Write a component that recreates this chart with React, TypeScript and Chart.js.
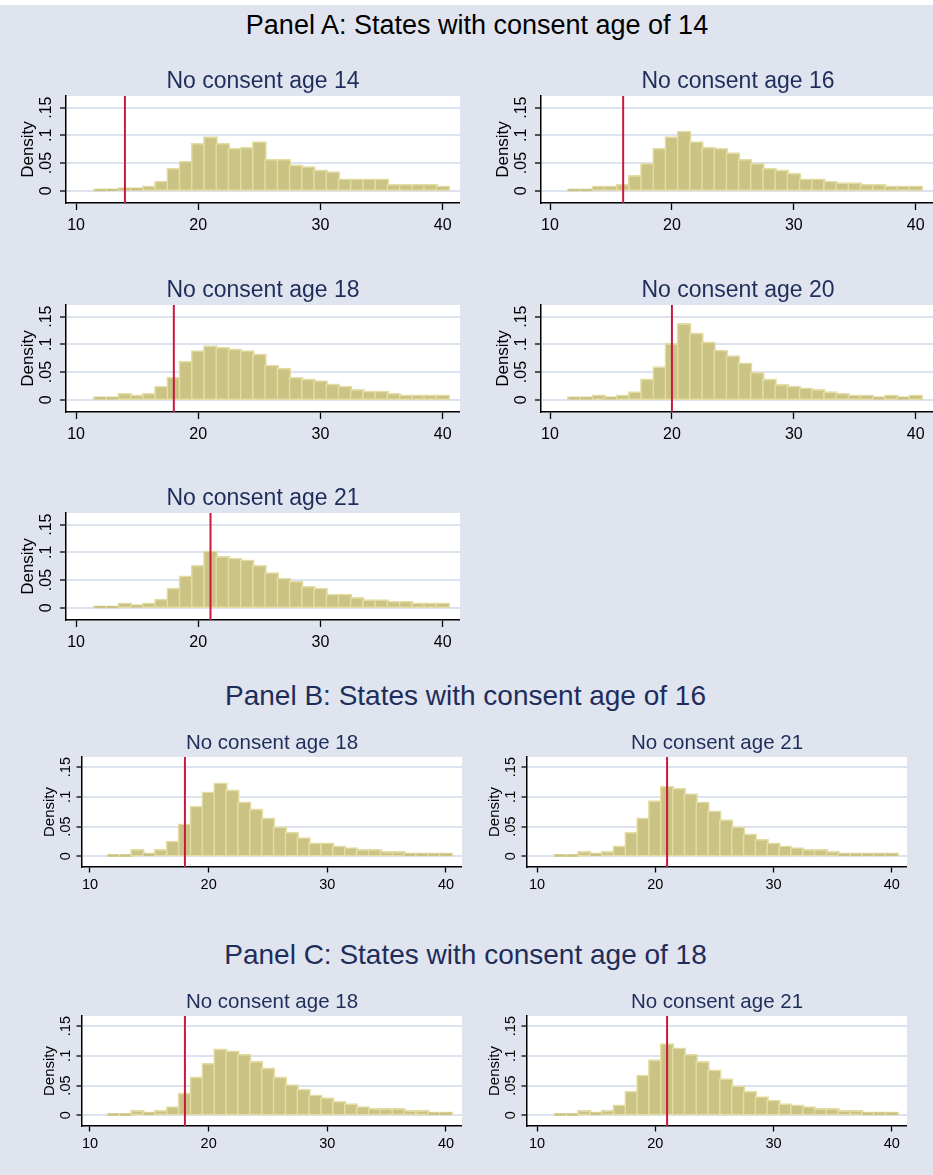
import React, { useEffect, useRef } from "react";
import { Chart, registerables } from "chart.js";

Chart.register(...registerables);

// ---------------- data ----------------
const ageBins = [12, 13, 14, 15, 16, 17, 18, 19, 20, 21, 22, 23, 24, 25, 26, 27, 28, 29, 30, 31, 32, 33, 34, 35, 36, 37, 38, 39, 40];

const xTickValues = [10, 20, 30, 40];
const xTickLabels = ["10", "20", "30", "40"];
const yTickValues = [0, 0.05, 0.1, 0.15];
const yTickLabels = ["0", ".05", ".1", ".15"];

const panelHeadings = [
  "Panel A: States with consent age of 14",
  "Panel B: States with consent age of 16",
  "Panel C: States with consent age of 18",
];

// Panel A: states with consent age 14
const panelA_age14 = [0.001, 0.002, 0.004, 0.004, 0.007, 0.016, 0.039, 0.052, 0.084, 0.096, 0.084, 0.075, 0.077, 0.087, 0.055, 0.055, 0.045, 0.042, 0.036, 0.033, 0.020, 0.020, 0.020, 0.020, 0.010, 0.010, 0.010, 0.010, 0.007];
const panelA_age16 = [0.001, 0.001, 0.007, 0.007, 0.010, 0.026, 0.048, 0.075, 0.096, 0.106, 0.087, 0.077, 0.075, 0.067, 0.055, 0.048, 0.039, 0.036, 0.030, 0.020, 0.020, 0.016, 0.013, 0.013, 0.010, 0.010, 0.007, 0.007, 0.007];
const panelA_age18 = [0.004, 0.004, 0.010, 0.007, 0.010, 0.023, 0.039, 0.068, 0.087, 0.096, 0.093, 0.090, 0.087, 0.081, 0.061, 0.055, 0.039, 0.036, 0.033, 0.027, 0.023, 0.017, 0.014, 0.014, 0.010, 0.007, 0.007, 0.007, 0.007];
const panelA_age20 = [0.004, 0.004, 0.007, 0.004, 0.007, 0.013, 0.036, 0.058, 0.100, 0.136, 0.119, 0.103, 0.088, 0.078, 0.065, 0.048, 0.036, 0.026, 0.023, 0.020, 0.017, 0.013, 0.010, 0.007, 0.007, 0.004, 0.007, 0.004, 0.007];
const panelA_age21 = [0.001, 0.001, 0.007, 0.004, 0.007, 0.014, 0.034, 0.056, 0.075, 0.101, 0.091, 0.088, 0.085, 0.075, 0.062, 0.052, 0.046, 0.037, 0.034, 0.023, 0.023, 0.017, 0.013, 0.013, 0.010, 0.010, 0.007, 0.007, 0.007];
// Panel B: states with consent age 16
const panelB_age18 = [0.001, 0.001, 0.010, 0.004, 0.010, 0.024, 0.053, 0.083, 0.107, 0.122, 0.110, 0.090, 0.078, 0.063, 0.048, 0.039, 0.030, 0.021, 0.021, 0.016, 0.013, 0.010, 0.010, 0.007, 0.007, 0.004, 0.004, 0.004, 0.004];
const panelB_age21 = [0.001, 0.001, 0.007, 0.004, 0.007, 0.016, 0.039, 0.063, 0.092, 0.116, 0.113, 0.104, 0.090, 0.075, 0.060, 0.048, 0.036, 0.027, 0.021, 0.016, 0.013, 0.010, 0.010, 0.007, 0.004, 0.004, 0.004, 0.004, 0.004];
// Panel C: states with consent age 18
const panelC_age18 = [0.001, 0.001, 0.007, 0.004, 0.007, 0.013, 0.036, 0.063, 0.086, 0.110, 0.107, 0.101, 0.089, 0.078, 0.063, 0.050, 0.042, 0.033, 0.028, 0.022, 0.018, 0.013, 0.010, 0.010, 0.010, 0.007, 0.007, 0.004, 0.004];
const panelC_age21 = [0.001, 0.001, 0.007, 0.004, 0.007, 0.016, 0.039, 0.066, 0.092, 0.119, 0.112, 0.101, 0.089, 0.075, 0.060, 0.048, 0.039, 0.030, 0.024, 0.018, 0.016, 0.013, 0.010, 0.010, 0.007, 0.007, 0.004, 0.004, 0.004];

const panelA_cutoffs = [14, 16, 18, 20, 21];
const panelB_cutoffs = [18, 21];
const panelC_cutoffs = [18, 21];

const panelA_titles = ["No consent age 14", "No consent age 16", "No consent age 18", "No consent age 20", "No consent age 21"];
const panelB_titles = ["No consent age 18", "No consent age 21"];
const panelC_titles = ["No consent age 18", "No consent age 21"];

const yAxisTitle = "Density";

// ---------------- styles ----------------
const FONT = "'Liberation Sans', Arial, Helvetica, sans-serif";
const BG = "#dfe4ef";
const GRID = "#dce2ee";
const BAR = "#cbc384";
const BAR_EDGE = "#e3dda5";
const RED = "#c9173f";
const NAVY = "#1e2d5a";

type Style = {
  yAxisW: number; xAxisH: number;
  titleSize: number; titlePadTop: number; titlePadBottom: number;
  tickSize: number; densSize: number; densPad: number;
  yTickPad: number; xTickPad: number; xTickLen: number; yTickLen: number;
  yMin: number; yMax: number;
};

const styleA: Style = {
  yAxisW: 50, xAxisH: 36, titleSize: 23, titlePadTop: 4, titlePadBottom: 0.4,
  tickSize: 16, densSize: 17, densPad: 2.1, yTickPad: 2.2, xTickPad: 6.2, xTickLen: 7, yTickLen: 6,
  yMin: -0.022, yMax: 0.171,
};
const styleBC: Style = {
  yAxisW: 45, xAxisH: 32, titleSize: 20.5, titlePadTop: 4.2, titlePadBottom: 1.2,
  tickSize: 14.5, densSize: 15, densPad: 3.7, yTickPad: 0, xTickPad: 3.8, xTickLen: 5.5, yTickLen: 5.5,
  yMin: -0.018, yMax: 0.167,
};

type Spec = {
  left: number; top: number; width: number; height: number;
  xMin: number; xMax: number; style: Style;
  title: string; values: number[]; cutoff: number;
};

const colA = [
  { left: 16, width: 444, xMin: 9.18, xMax: 41.41 },
  { left: 491, width: 444, xMin: 9.26, xMax: 41.58 },
];
const colBC = [
  { left: 37, width: 425, xMin: 9.326, xMax: 41.35 },
  { left: 482, width: 425, xMin: 9.154, xMax: 41.29 },
];
const rowTopsA = [64, 273, 481];
const rowTopB = 727;
const rowTopC = 986;

const panelAValues = [panelA_age14, panelA_age16, panelA_age18, panelA_age20, panelA_age21];

const specs: Spec[] = [];
panelAValues.forEach((vals, i) => {
  const c = colA[i % 2];
  specs.push({ left: c.left, width: c.width, xMin: c.xMin, xMax: c.xMax, top: rowTopsA[Math.floor(i / 2)], height: 175, style: styleA, title: panelA_titles[i], values: vals, cutoff: panelA_cutoffs[i] });
});
[panelB_age18, panelB_age21].forEach((vals, i) => {
  const c = colBC[i];
  specs.push({ left: c.left, width: c.width, xMin: c.xMin, xMax: c.xMax, top: rowTopB, height: 172, style: styleBC, title: panelB_titles[i], values: vals, cutoff: panelB_cutoffs[i] });
});
[panelC_age18, panelC_age21].forEach((vals, i) => {
  const c = colBC[i];
  specs.push({ left: c.left, width: c.width, xMin: c.xMin, xMax: c.xMax, top: rowTopC, height: 172, style: styleBC, title: panelC_titles[i], values: vals, cutoff: panelC_cutoffs[i] });
});

// ---------------- plugins ----------------
const plotBg = {
  id: "plotBg",
  beforeDraw(chart: any) {
    const { ctx, chartArea: a } = chart;
    ctx.save();
    ctx.fillStyle = "#ffffff";
    ctx.fillRect(a.left, a.top, a.right - a.left, a.bottom - a.top);
    ctx.restore();
  },
};

const cutoffLine = {
  id: "cutoffLine",
  afterDatasetsDraw(chart: any, _args: any, opts: any) {
    const { ctx, chartArea: a, scales } = chart;
    const x = scales.x.getPixelForValue(opts.value);
    ctx.save();
    ctx.strokeStyle = opts.color;
    ctx.lineWidth = opts.width;
    ctx.beginPath();
    ctx.moveTo(x, a.top);
    ctx.lineTo(x, a.bottom);
    ctx.stroke();
    ctx.restore();
  },
};

function buildConfig(spec: Spec): any {
  const s = spec.style;
  return {
    type: "bar",
    data: {
      datasets: [
        {
          data: ageBins.map((a, i) => ({ x: a, y: spec.values[i] })),
          backgroundColor: BAR,
          borderColor: BAR_EDGE,
          borderWidth: 1.6,
          borderSkipped: false,
          inflateAmount: 1.3,
          barPercentage: 1,
          categoryPercentage: 1,
          grouped: false,
        },
      ],
    },
    options: {
      animation: false,
      responsive: false,
      maintainAspectRatio: false,
      devicePixelRatio: 1,
      layout: { padding: 0, autoPadding: false },
      plugins: {
        legend: { display: false },
        tooltip: { enabled: false },
        title: {
          display: true,
          text: spec.title,
          color: NAVY,
          fullSize: false,
          align: "center",
          font: { family: FONT, size: s.titleSize, weight: "normal", lineHeight: 1.2 },
          padding: { top: s.titlePadTop, bottom: s.titlePadBottom },
        },
        cutoffLine: { value: spec.cutoff, color: RED, width: 2 },
      },
      scales: {
        x: {
          type: "linear",
          min: spec.xMin,
          max: spec.xMax,
          offset: false,
          afterBuildTicks: (sc: any) => {
            sc.ticks = xTickValues.map((v) => ({ value: v }));
          },
          afterFit: (sc: any) => {
            sc.height = s.xAxisH;
            sc.paddingLeft = 0;
            sc.paddingRight = 0;
          },
          ticks: {
            autoSkip: false,
            minRotation: 0,
            maxRotation: 0,
            padding: s.xTickPad,
            color: "#000",
            font: { family: FONT, size: s.tickSize, lineHeight: 1.2 },
            callback: (_v: any, i: number) => xTickLabels[i],
          },
          grid: {
            offset: false,
            drawOnChartArea: false,
            drawTicks: true,
            tickLength: s.xTickLen,
            tickColor: "#000",
            tickWidth: 1.3,
          },
          border: { display: true, color: "#000", width: 1.5 },
        },
        y: {
          type: "linear",
          min: s.yMin,
          max: s.yMax,
          afterBuildTicks: (sc: any) => {
            sc.ticks = yTickValues.map((v) => ({ value: v }));
          },
          afterFit: (sc: any) => {
            sc.width = s.yAxisW;
            sc.paddingTop = 0;
            sc.paddingBottom = 0;
          },
          ticks: {
            autoSkip: false,
            minRotation: 90,
            maxRotation: 90,
            crossAlign: "center",
            padding: s.yTickPad,
            color: "#000",
            font: { family: FONT, size: s.tickSize, lineHeight: 1.2 },
            callback: (_v: any, i: number) => yTickLabels[i],
          },
          grid: {
            color: GRID,
            lineWidth: 2,
            drawTicks: true,
            tickLength: s.yTickLen,
            tickColor: "#000",
            tickWidth: 1.3,
          },
          border: { display: true, color: "#000", width: 1.5 },
          title: {
            display: true,
            text: yAxisTitle,
            color: "#000",
            font: { family: FONT, size: s.densSize, lineHeight: 1.2 },
            padding: { top: s.densPad, bottom: 0 },
          },
        },
      },
    },
    plugins: [plotBg, cutoffLine],
  };
}

function Histogram({ spec }: { spec: Spec }) {
  const ref = useRef<HTMLCanvasElement | null>(null);
  useEffect(() => {
    if (!ref.current) return;
    const chart = new Chart(ref.current, buildConfig(spec));
    return () => chart.destroy();
  }, [spec]);
  return (
    <canvas
      ref={ref}
      width={spec.width}
      height={spec.height}
      style={{ position: "absolute", left: spec.left, top: spec.top, width: spec.width, height: spec.height }}
    />
  );
}

function Heading({ text, centerX, top, size, color }: { text: string; centerX: number; top: number; size: number; color: string }) {
  return (
    <div
      style={{
        position: "absolute",
        left: centerX - 320,
        width: 640,
        top,
        textAlign: "center",
        fontFamily: FONT,
        fontSize: size,
        lineHeight: `${size}px`,
        whiteSpace: "nowrap",
        color,
      }}
    >
      {text}
    </div>
  );
}

export default function App() {
  return (
    <div
      style={{
        position: "absolute",
        left: 0,
        top: 0,
        width: 933,
        height: 1175,
        overflow: "hidden",
        background: BG,
      }}
    >
      <div style={{ position: "absolute", left: 0, top: 0, width: 933, height: 5, background: "#ffffff" }} />
      <Heading text={panelHeadings[0]} centerX={477} top={12.1} size={27} color="#000000" />
      <Heading text={panelHeadings[1]} centerX={465.5} top={682.3} size={28} color={NAVY} />
      <Heading text={panelHeadings[2]} centerX={465.5} top={941} size={28} color={NAVY} />
      {specs.map((sp, i) => (
        <Histogram key={i} spec={sp} />
      ))}
    </div>
  );
}
